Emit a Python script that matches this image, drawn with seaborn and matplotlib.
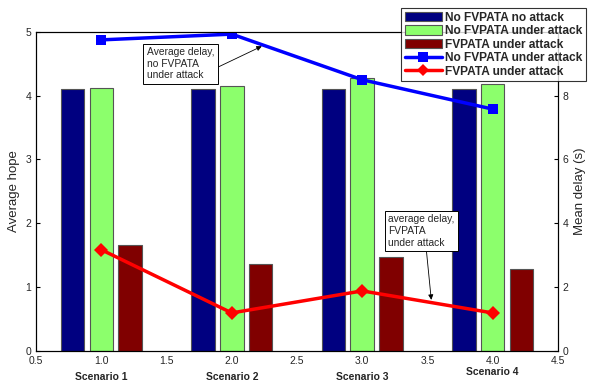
import pandas as pd
import matplotlib
matplotlib.use("Agg")
import matplotlib.pyplot as plt
import matplotlib.transforms as mtransforms
from matplotlib.patches import Patch
from matplotlib.lines import Line2D
import seaborn as sns

sns.set_style("white")
plt.rcParams["font.family"] = ["Liberation Sans", "DejaVu Sans"]

# data
positions = [1.0, 2.0, 3.0, 4.0]
scenarios = ["Scenario 1", "Scenario 2", "Scenario 3", "Scenario 4"]
bar_series = ["No FVPATA no attack", "No FVPATA under attack", "FVPATA under attack"]
hops_no_fvpata_no_attack = [4.10, 4.10, 4.10, 4.10]
hops_no_fvpata_attack = [4.12, 4.15, 4.28, 4.19]
hops_fvpata_attack = [1.66, 1.36, 1.47, 1.28]
delay_no_fvpata_attack = [9.75, 9.93, 8.50, 7.58]
delay_fvpata_attack = [3.17, 1.19, 1.88, 1.19]

bar_colors = ["#000080", "#8CFF6C", "#800000"]

bars = pd.DataFrame({
    "pos": positions * 3,
    "hops": hops_no_fvpata_no_attack + hops_no_fvpata_attack + hops_fvpata_attack,
    "series": [s for s in bar_series for _ in positions],
})
lines = pd.DataFrame({
    "pos": positions * 2,
    "delay": delay_no_fvpata_attack + delay_fvpata_attack,
    "series": ["No FVPATA under attack "] * 4 + ["FVPATA under attack "] * 4,
})

fig = plt.figure(figsize=(6.03, 3.89), dpi=100)
ax = fig.add_axes([0.060, 0.098, 0.865, 0.820])

sns.barplot(data=bars, x="pos", y="hops", hue="series", native_scale=True,
            palette=bar_colors, width=0.66, gap=0.18, dodge=True,
            edgecolor="#555555", linewidth=0.8, saturation=1, errorbar=None,
            legend=False, ax=ax)
ax.set_xlim(0.5, 4.5)
ax.set_ylim(0, 5)
ax.set_xticks([0.5, 1.0, 1.5, 2.0, 2.5, 3.0, 3.5, 4.0, 4.5])
ax.set_xticklabels(["0.5", "1.0", "1.5", "2.0", "2.5", "3.0", "3.5", "4.0", "4.5"])
ax.set_yticks([0, 1, 2, 3, 4, 5])
ax.set_xlabel("")
ax.set_ylabel("Average hope", fontsize=9.5)
ax.tick_params(direction="in", labelsize=7.5, length=3, color="black",
               top=False, right=False)
for s in ax.spines.values():
    s.set_color("black")
    s.set_linewidth(0.8)

ax2 = ax.twinx()
sns.lineplot(data=lines, x="pos", y="delay", hue="series",
             palette=["#0000FF", "#FF0000"], style="series",
             markers=["s", "D"], dashes=False, markersize=7, linewidth=2.5,
             markeredgewidth=0, legend=False, ax=ax2)
ax2.set_ylim(0, 10)
ax2.set_yticks([0, 2, 4, 6, 8])
ax2.set_ylabel("Mean delay (s)", fontsize=9.5)
ax2.set_xlabel("")
ax2.tick_params(direction="in", labelsize=7.5, length=3, color="black")
for s in ax2.spines.values():
    s.set_color("black")
    s.set_linewidth(0.8)

# scenario names under the ticks
trans = mtransforms.blended_transform_factory(ax.transData, ax.transAxes)
for p, name, dy in zip(positions, scenarios, [0, 0, 0, 0.015]):
    ax.text(p, -0.082 + dy, name, transform=trans, ha="center", va="center",
            fontsize=7.5, fontweight="bold")

# annotations
ax2.annotate("Average delay,\nno FVPATA\nunder attack", xy=(2.23, 9.55),
             xytext=(1.35, 9.0), fontsize=7.4, va="center", ha="left",
             bbox=dict(boxstyle="square,pad=0.35", fc="white", ec="black", lw=0.7),
             arrowprops=dict(arrowstyle="-|>", color="black", lw=0.6,
                             shrinkA=0, shrinkB=0, relpos=(1, 0.35)))
ax2.annotate("average delay,\nFVPATA\nunder attack", xy=(3.53, 1.6),
             xytext=(3.2, 3.76), fontsize=7.4, va="center", ha="left",
             bbox=dict(boxstyle="square,pad=0.35", fc="white", ec="black", lw=0.7),
             arrowprops=dict(arrowstyle="-|>", color="black", lw=0.6,
                             shrinkA=0, shrinkB=0, relpos=(0.57, 0)))

# legend
handles = [Patch(facecolor=c, edgecolor="#555555", lw=0.8) for c in bar_colors]
handles += [Line2D([], [], color="#0000FF", marker="s", lw=2.5, ms=7, mew=0),
            Line2D([], [], color="#FF0000", marker="D", lw=2.5, ms=6, mew=0)]
labels = bar_series + ["No FVPATA under attack", "FVPATA under attack"]
leg = fig.legend(handles, labels, loc="upper right", bbox_to_anchor=(0.982, 0.995),
                 prop={"weight": "bold", "size": 8.6},
                 frameon=True, fancybox=False, edgecolor="black",
                 handlelength=3.1, handleheight=0.9, labelspacing=0.12,
                 borderpad=0.3, handletextpad=0.3)
leg.get_frame().set_linewidth(0.8)

fig.savefig("out.png", dpi=100)
